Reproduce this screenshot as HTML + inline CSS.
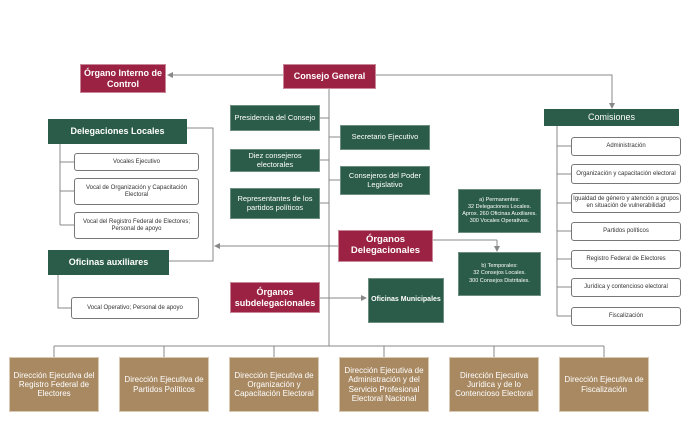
<!DOCTYPE html>
<html><head><meta charset="utf-8"><style>
body{margin:0;width:700px;height:445px;background:#fff;position:relative;overflow:hidden;font-family:"Liberation Sans",Arial,sans-serif}
.b{position:absolute;display:flex;align-items:center;justify-content:center;text-align:center;box-sizing:border-box;line-height:1.15}
.r{background:#9b2242;color:#fff;font-weight:bold;font-size:9px;border:1px solid #c9879a}
.g{background:#2b5c4a;color:#fff;font-size:7.5px;border:1px solid #6e8f80}
.gb{background:#2b5c4a;color:#fff;font-weight:bold;font-size:9px}
.w{background:#fff;color:#333;font-size:6px;border:1px solid #777;border-radius:3px}
.t{background:#a88962;color:#fff;font-size:8px;border:1px solid #d8c9b3}
.s{font-size:5.5px;line-height:1.3}
svg{position:absolute;left:0;top:0}
</style></head><body>
<svg width="700" height="445" stroke="#888" stroke-width="1" fill="none">
<defs><marker id="a" markerWidth="6" markerHeight="6" refX="5" refY="3" orient="auto"><path d="M0,0L6,3L0,6z" fill="#888" stroke="none"/></marker></defs>
<line x1="283" y1="75" x2="168" y2="75" marker-end="url(#a)"/>
<polyline points="376,75 612,75 612,108" marker-end="url(#a)"/>
<line x1="329" y1="89" x2="329" y2="346"/>
<line x1="320" y1="118" x2="329" y2="118"/>
<line x1="320" y1="160" x2="329" y2="160"/>
<line x1="320" y1="203" x2="329" y2="203"/>
<line x1="329" y1="137" x2="340" y2="137"/>
<line x1="329" y1="180" x2="340" y2="180"/>
<line x1="329" y1="246" x2="338" y2="246"/>
<line x1="329" y1="246" x2="215" y2="246" marker-end="url(#a)"/>
<line x1="320" y1="298" x2="329" y2="298"/>
<line x1="329" y1="298" x2="366" y2="298" marker-end="url(#a)"/>
<polyline points="433,240 497,240"/>
<line x1="497" y1="240" x2="497" y2="251" marker-end="url(#a)"/>
<polyline points="187,128 213,128 213,261 169,261"/>
<polyline points="60,144 60,225"/>
<line x1="60" y1="162" x2="74" y2="162"/><line x1="60" y1="191" x2="74" y2="191"/><line x1="60" y1="225" x2="74" y2="225"/>
<polyline points="58,275 58,308 71,308"/>
<line x1="557" y1="126" x2="557" y2="316"/>
<line x1="557" y1="146" x2="571" y2="146"/><line x1="557" y1="174" x2="571" y2="174"/><line x1="557" y1="203" x2="571" y2="203"/><line x1="557" y1="231" x2="571" y2="231"/><line x1="557" y1="259" x2="571" y2="259"/><line x1="557" y1="287" x2="571" y2="287"/><line x1="557" y1="316" x2="571" y2="316"/>
<line x1="54" y1="346" x2="604" y2="346"/>
<line x1="54" y1="346" x2="54" y2="357"/><line x1="164" y1="346" x2="164" y2="357"/><line x1="274" y1="346" x2="274" y2="357"/><line x1="384" y1="346" x2="384" y2="357"/><line x1="494" y1="346" x2="494" y2="357"/><line x1="604" y1="346" x2="604" y2="357"/>
</svg>
<div class="b r" style="left:80px;top:64px;width:86px;height:29px">Órgano Interno de Control</div>
<div class="b r" style="left:283px;top:64px;width:93px;height:25px">Consejo General</div>
<div class="b g" style="left:230px;top:105px;width:90px;height:26px">Presidencia del Consejo</div>
<div class="b g" style="left:230px;top:149px;width:90px;height:23px">Diez consejeros electorales</div>
<div class="b g" style="left:230px;top:188px;width:90px;height:31px">Representantes de los partidos políticos</div>
<div class="b g" style="left:340px;top:125px;width:90px;height:25px">Secretario Ejecutivo</div>
<div class="b g" style="left:340px;top:166px;width:90px;height:29px">Consejeros del Poder Legislativo</div>
<div class="b r" style="left:338px;top:230px;width:95px;height:32px;font-size:9.5px">Órganos Delegacionales</div>
<div class="b r" style="left:230px;top:282px;width:90px;height:31px">Órganos subdelegacionales</div>
<div class="b g" style="left:368px;top:278px;width:76px;height:45px;font-weight:bold;font-size:7px">Oficinas Municipales</div>
<div class="b g s" style="left:458px;top:189px;width:83px;height:44px">a) Permanentes:<br>32 Delegaciones Locales.<br>Aprox. 260 Oficinas Auxiliares.<br>300 Vocales Operativos.</div>
<div class="b g s" style="left:458px;top:252px;width:83px;height:44px">b) Temporales:<br>32 Consejos Locales.<br>300 Consejos Distritales.</div>
<div class="b gb" style="left:48px;top:119px;width:139px;height:25px">Delegaciones Locales</div>
<div class="b w" style="left:74px;top:153px;width:125px;height:18px">Vocales Ejecutivo</div>
<div class="b w" style="left:74px;top:178px;width:125px;height:27px">Vocal de Organización y Capacitación Electoral</div>
<div class="b w" style="left:74px;top:212px;width:125px;height:27px">Vocal del Registro Federal de Electores; Personal de apoyo</div>
<div class="b gb" style="left:48px;top:250px;width:121px;height:25px">Oficinas auxiliares</div>
<div class="b w" style="left:71px;top:297px;width:128px;height:22px">Vocal Operativo; Personal de apoyo</div>
<div class="b gb" style="left:544px;top:109px;width:135px;height:17px;font-weight:normal">Comisiones</div>
<div class="b w" style="left:571px;top:137px;width:110px;height:19px">Administración</div>
<div class="b w" style="left:571px;top:164px;width:110px;height:20px">Organización y capacitación electoral</div>
<div class="b w" style="left:571px;top:193px;width:110px;height:20px">Igualdad de género y atención a grupos en situación de vulnerabilidad</div>
<div class="b w" style="left:571px;top:222px;width:110px;height:19px">Partidos políticos</div>
<div class="b w" style="left:571px;top:250px;width:110px;height:19px">Registro Federal de Electores</div>
<div class="b w" style="left:571px;top:278px;width:110px;height:19px">Jurídica y contencioso electoral</div>
<div class="b w" style="left:571px;top:307px;width:110px;height:19px">Fiscalización</div>
<div class="b t" style="left:9px;top:357px;width:90px;height:55px">Dirección Ejecutiva del Registro Federal de Electores</div>
<div class="b t" style="left:119px;top:357px;width:90px;height:55px">Dirección Ejecutiva de Partidos Políticos</div>
<div class="b t" style="left:229px;top:357px;width:90px;height:55px">Dirección Ejecutiva de Organización y Capacitación Electoral</div>
<div class="b t" style="left:339px;top:357px;width:90px;height:55px">Dirección Ejecutiva de Administración y del Servicio Profesional Electoral Nacional</div>
<div class="b t" style="left:449px;top:357px;width:90px;height:55px">Dirección Ejecutiva Jurídica y de lo Contencioso Electoral</div>
<div class="b t" style="left:559px;top:357px;width:90px;height:55px">Dirección Ejecutiva de Fiscalización</div>
</body></html>
